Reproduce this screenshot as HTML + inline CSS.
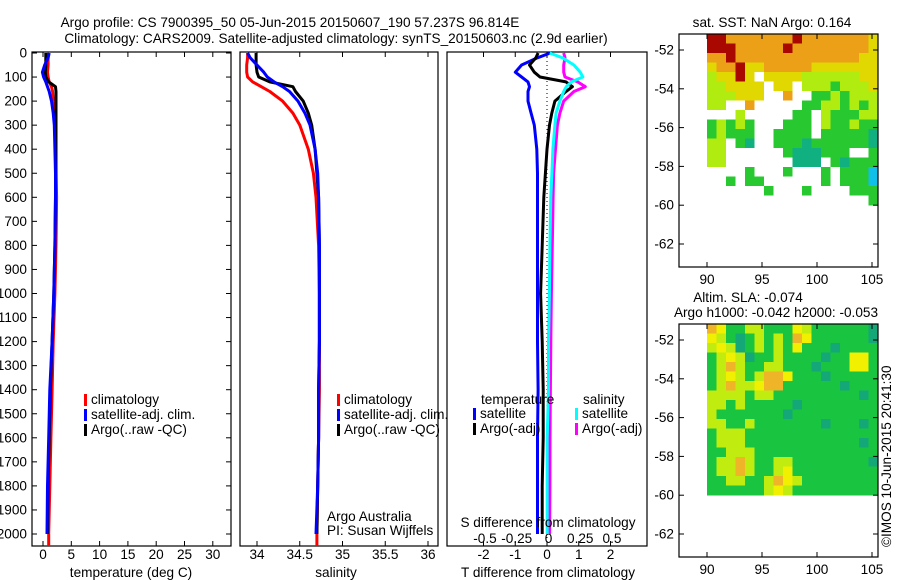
<!DOCTYPE html>
<html><head><meta charset="utf-8">
<style>
body{margin:0;background:#fff;}
svg{display:block;font-family:"Liberation Sans",sans-serif;}
text{font-size:13.6px;fill:#000;}
</style></head>
<body>
<svg id="fig" width="900" height="580" viewBox="0 0 900 580">
<text x="290" y="27" text-anchor="middle">Argo profile: CS 7900395_50 05-Jun-2015 20150607_190 57.237S 96.814E</text>
<text x="336" y="43" text-anchor="middle">Climatology: CARS2009. Satellite-adjusted climatology: synTS_20150603.nc (2.9d earlier)</text>
<g id="g1"></g>
<g id="g2"></g>
<g id="g3"></g>
<g id="m1"></g>
<g id="m2"></g>
<text x="772" y="27" text-anchor="middle">sat. SST: NaN Argo: 0.164</text>
<text x="748" y="302" text-anchor="middle">Altim. SLA: -0.074</text>
<text x="776" y="317" text-anchor="middle">Argo h1000: -0.042 h2000: -0.053</text>
<text transform="translate(891,547) rotate(-90)">©IMOS 10-Jun-2015 20:41:30</text>
</svg>
<script>
const depths=[0,20,50,80,100,120,140,160,200,250,300,400,500,600,800,1000,1200,1400,1600,1800,2000,2050];
const tempClim=[0.9,0.9,0.9,0.8,0.9,1.1,1.5,1.7,1.8,2.0,2.1,2.2,2.3,2.4,2.3,2.1,1.8,1.6,1.4,1.2,1.0,1.0];
const tempSat=[1.1,0.9,0.3,-0.1,0.1,0.5,0.8,1.1,1.5,1.8,2.0,2.1,2.2,2.2,2.1,1.9,1.6,1.2,1.0,0.8,0.7];
const tempArgo=[0.5,0.5,0.5,0.4,0.5,1.0,2.2,2.3,2.3,2.3,2.3,2.3,2.3,2.2,2.1,1.9,1.6,1.3,1.1,0.9,0.8];
const salClim=[33.89,33.89,33.88,33.88,33.89,33.95,34.05,34.15,34.3,34.42,34.5,34.6,34.66,34.69,34.72,34.73,34.73,34.73,34.72,34.71,34.70,34.70];
const salSat=[33.89,33.92,34.0,34.08,34.12,34.2,34.3,34.38,34.48,34.56,34.62,34.68,34.71,34.72,34.73,34.73,34.73,34.72,34.72,34.71,34.69];
const salArgo=[33.99,33.99,33.99,34.0,34.02,34.15,34.42,34.45,34.54,34.6,34.64,34.68,34.7,34.72,34.73,34.73,34.73,34.72,34.72,34.71,34.70];
const dTsat=[0.1,-0.3,-0.8,-1.0,-0.8,-0.6,-0.55,-0.6,-0.6,-0.5,-0.4,-0.32,-0.3,-0.3,-0.3,-0.3,-0.3,-0.28,-0.3,-0.3,-0.3];
const dTargo=[-0.28,-0.35,-0.55,-0.4,-0.22,0.6,0.8,0.6,0.25,0.15,0.08,0.0,-0.05,-0.1,-0.15,-0.2,-0.15,-0.12,-0.12,-0.15,-0.15];
const dSsat=[0.01,0.11,0.2,0.25,0.27,0.18,0.14,0.12,0.09,0.06,0.05,0.035,0.027,0.018,0.011,0.007,0.0,0.0,-0.01,-0.01,-0.01];
const dSargo=[0.12,0.13,0.12,0.12,0.13,0.23,0.29,0.2,0.12,0.09,0.07,0.055,0.04,0.036,0.03,0.023,0.018,0.015,0.012,0.011,0.009];
const depthTicks=[0,100,200,300,400,500,600,700,800,900,1000,1100,1200,1300,1400,1500,1600,1700,1800,1900,2000];
const tempTicks=[0,5,10,15,20,25,30];
const salTicks=[34,34.5,35,35.5,36];
const dTTicks=[-2,-1,0,1,2];
const dSTicks=[-0.5,-0.25,0,0.25,0.5];
const dSTickLabels=["-0.5","-0.25","0","0.25","0.5"];
const latTicks=[-52,-54,-56,-58,-60,-62];
const lonTicks=[90,95,100,105];

const NS='http://www.w3.org/2000/svg';
function mk(p,tag,attrs,txt){const e=document.createElementNS(NS,tag);for(const k in attrs)e.setAttribute(k,attrs[k]);if(txt!==undefined)e.textContent=txt;p.appendChild(e);return e;}
const yD=d=>53+d*0.2405;
const xT=t=>43+t*5.66;
const xS=s=>257+(s-34)*85.5;
const xDT=t=>547+t*31.75;
const xDS=s=>548.5+s*127;

function panel(g,x0,x1,name){
  const r=mk(g,'rect',{x:x0,y:52,width:x1-x0,height:494,fill:'none',stroke:'#000','stroke-width':1.2});
  
  
}
function line(g,xs,ds,fx,col,w,name){
  const pts=xs.map((v,i)=>fx(v).toFixed(1)+','+yD(ds[i]).toFixed(1)).join(' ');
  const p=mk(g,'polyline',{points:pts,fill:'none',stroke:col,'stroke-width':w,'stroke-linejoin':'round'});
  
  
}
function xticks(g,ticks,fx,labels,x0,x1,name){
  ticks.forEach((t,i)=>{const x=fx(t);
    mk(g,'line',{x1:x,x2:x,y1:546,y2:541,stroke:'#000'});
    mk(g,'line',{x1:x,x2:x,y1:52,y2:57,stroke:'#000'});
    const tx=mk(g,'text',{x:x,y:559,'text-anchor':'middle'},labels?labels[i]:String(t));
    
    
  });
}
function legend(g,x,y,items){
  items.forEach((it,i)=>{
    mk(g,'rect',{x:x,y:y+i*15-10,width:3,height:12,fill:it[1]});
    const t=mk(g,'text',{x:x+7,y:y+i*15},it[0]);
    
    
  });
}
// Panel 1
const g1=document.getElementById('g1');
panel(g1,32,231,'temperature');
depthTicks.forEach(d=>{const y=yD(d);
  mk(g1,'line',{x1:32,x2:37,y1:y,y2:y,stroke:'#000'});
  mk(g1,'line',{x1:231,x2:226,y1:y,y2:y,stroke:'#000'});
  const t=mk(g1,'text',{x:27,y:y+4.5,'text-anchor':'end'},String(d));
  
  
});
xticks(g1,tempTicks,xT,null,32,231,'temperature');
line(g1,tempClim,depths,xT,'#f00',3,'temperature-climatology-line');
line(g1,tempArgo,depths,xT,'#000',3,'temperature-argo-line');
line(g1,tempSat,depths,xT,'#00f',3,'temperature-satellite-line');
mk(g1,'text',{x:131,y:577,'text-anchor':'middle'},'temperature (deg C)');
legend(g1,84,404,[['climatology','#f00'],['satellite-adj. clim.','#00f'],['Argo(..raw -QC)','#000']]);
// Panel 2
const g2=document.getElementById('g2');
panel(g2,240,438,'salinity');
xticks(g2,salTicks,xS,null,240,438,'salinity');
line(g2,salClim,depths,xS,'#f00',3,'salinity-climatology-line');
line(g2,salArgo,depths,xS,'#000',3,'salinity-argo-line');
line(g2,salSat,depths,xS,'#00f',3,'salinity-satellite-line');
mk(g2,'text',{x:336,y:577,'text-anchor':'middle'},'salinity');
legend(g2,337,404,[['climatology','#f00'],['satellite-adj. clim.','#00f'],['Argo(..raw -QC)','#000']]);
mk(g2,'text',{x:327,y:521},'Argo Australia');
mk(g2,'text',{x:327,y:535},'PI: Susan Wijffels');
// Panel 3
const g3=document.getElementById('g3');
panel(g3,447,647,'difference');
mk(g3,'line',{x1:xDT(0),x2:xDT(0),y1:53,y2:546,stroke:'#000','stroke-dasharray':'1 3'});
xticks(g3,dTTicks,xDT,null,447,647,'t-diff');
dSTicks.forEach((s,i)=>{const t=mk(g3,'text',{x:xDS(s),y:543,'text-anchor':'middle'},dSTickLabels[i]);
  
  });
line(g3,dTsat,depths,xDT,'#00f',3,'t-diff-satellite-line');
line(g3,dTargo,depths,xDT,'#000',3,'t-diff-argo-line');
line(g3,dSargo,depths,xDS,'#f0f',3,'s-diff-argo-line');
line(g3,dSsat,depths,xDS,'#0ff',3,'s-diff-satellite-line');
mk(g3,'text',{x:548,y:527,'text-anchor':'middle'},'S difference from climatology');
mk(g3,'text',{x:548,y:577,'text-anchor':'middle'},'T difference from climatology');
mk(g3,'text',{x:481,y:404},'temperature');
mk(g3,'text',{x:583,y:404},'salinity');
legend(g3,473,418,[['satellite','#00f'],['Argo(-adj)','#000']]);
legend(g3,575,418,[['satellite','#0ff'],['Argo(-adj)','#f0f']]);

// Maps
const sstRows=["RROOOOOOOROOOOOOOY","RRROOOOOROOOOOOOOY","OOROOOOOOOOOOOOOYY","YOORYYOOOOOYYYYYYY","LYYRYWYYYYLLLLLLYY","LLYYYYWYYWLLLGLLLY","LLLYYYWWOWWGGLGLLL","LLWWOWWWWWGGLLGLGL","WWWLWWWWWGGWLGGGLL","GLGLGWWWGGGWLGGLGG","GLGGGWWGGGGWGGGGGT","LLWGTWWGGGTGGGGGGT","LLWWWWWWGTTTGGGWWG","LLWWWWWWWTTTWGTGGG","WWWWGWWWGWWWGWGGGC","WWGWGGWWWWWWGWGGGC","WWWWWWGWWWGWWWWGGG","WWWWWWWWWWWWWWWWWG"];
const sstCols={R:'#a80800',O:'#eca018',Y:'#e0d800',L:'#b0ec10',G:'#28c830',T:'#10b080',C:'#10c0e8',W:'#ffffff'};
const slaRows=["OYGGyyGGGYyGGGGGGT","YyGTGyGyGOYGGGGGGT","yYyTGyGyGYGGGTGGGG","GyYyTGGyGGGGTGGYYG","GyOyGGyyGGGTGGGYYG","GyYyGyOOYGGGTGGGGG","GyOyyYOOGGGGGGTGGG","yyyyGyyGGGGGGGGGTG","yyGyGGGGGTGGGGGGGG","yGGGGGGGTGGGGGGGGG","yyGGyGGGGGGGTGGGTG","GyyyGGGGGGGGGGGGGG","GyyyGGGGGGGGGGGGTG","GGyyyGGGGGGGGGGGGG","GyyOyGGyyGGGGGGGGT","GyyOyGGyYGGGGGGGGG","GGyyGGyOYyGGGGGGGG","GGGGGGyYyGGGGGGGGG"];
const slaCols={O:'#f0b428',Y:'#f0f000',y:'#c0ec10',G:'#18c440',T:'#14a878'};
function map(id,top,rows,cols,name){
  const g=document.getElementById(id);
  const x0=707,x1=878,y0=top,y1=top+171,cw=(x1-x0)/18,ch=(y1-y0)/18;
  rows.forEach((row,r)=>{[...row].forEach((c,k)=>{
    mk(g,'rect',{x:(x0+k*cw).toFixed(2),y:(y0+r*ch).toFixed(2),width:(cw+0.5).toFixed(2),height:(ch+0.5).toFixed(2),fill:cols[c]});
  });});
  const f=mk(g,'rect',{x:679,y:top,width:199,height:233,fill:'none',stroke:'#000','stroke-width':1.2});
  
  
  const yL=l=>top+16+(-52-l)*19.4;
  latTicks.forEach(l=>{const y=yL(l);
    mk(g,'line',{x1:679,x2:684,y1:y,y2:y,stroke:'#000'});
    mk(g,'line',{x1:878,x2:873,y1:y,y2:y,stroke:'#000'});
    const t=mk(g,'text',{x:674,y:y+4.5,'text-anchor':'end'},String(l));
    
    
  });
  const xL=l=>707+(l-90)*11.0;
  lonTicks.forEach(l=>{const x=xL(l);
    mk(g,'line',{x1:x,x2:x,y1:top+233,y2:top+228,stroke:'#000'});
    mk(g,'line',{x1:x,x2:x,y1:top,y2:top+5,stroke:'#000'});
    const t=mk(g,'text',{x:x,y:top+250,'text-anchor':'middle'},String(l));
    
    
  });
}
map('m1',34,sstRows,sstCols,'sst-map');
map('m2',324,slaRows,slaCols,'sla-map');
</script>
</body></html>
